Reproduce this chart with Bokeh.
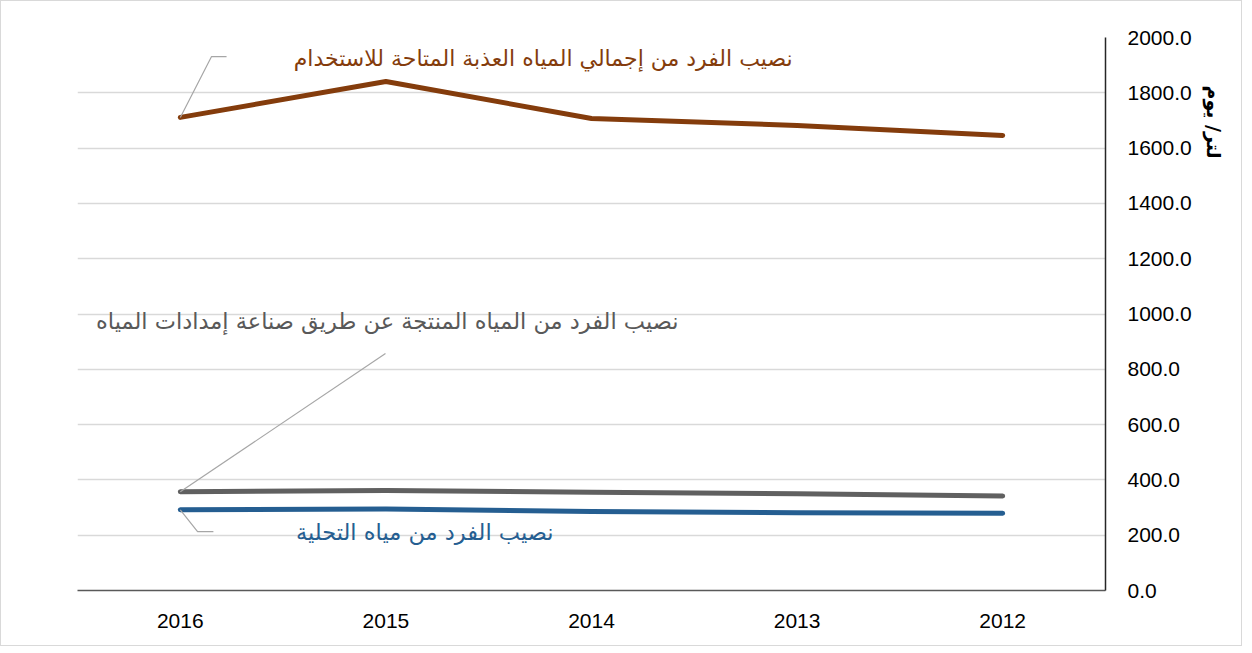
from bokeh.embed import file_html
from bokeh.models import ColumnDataSource, FixedTicker, Label, NumeralTickFormatter, Range1d, Title
from bokeh.plotting import figure
from bokeh.resources import INLINE

# نصيب الفرد من المياه (لتر/ يوم)

years = ["2016", "2015", "2014", "2013", "2012"]
total_fresh = [1711, 1841, 1707, 1682, 1646]
industry_supply = [357, 362, 355, 350, 342]
desalination = [292, 295, 286, 281, 279]

y_ticks = [0, 200, 400, 600, 800, 1000, 1200, 1400, 1600, 1800, 2000]

name_total = "نصيب الفرد من إجمالي المياه العذبة المتاحة للاستخدام"
name_industry = "نصيب الفرد من المياه المنتجة عن طريق صناعة إمدادات المياه"
name_desal = "نصيب الفرد من مياه التحلية"
unit_title = "لتر/ يوم"

# each category sits at the centre of a unit slot
xs = [i + 0.5 for i in range(len(years))]
source = ColumnDataSource(dict(x=xs, year=years, total=total_fresh,
                               industry=industry_supply, desal=desalination))

p = figure(width=1242, height=646, output_backend="svg", toolbar_location=None,
           x_range=Range1d(0, len(years)), y_range=Range1d(0, 2000),
           y_axis_location="right",
           min_border_left=76, min_border_right=138, min_border_top=36, min_border_bottom=57)
p.styles = {"border": "1px solid #d9d9d9"}
p.outline_line_color = None
p.background_fill_color = "white"

p.line("x", "total", source=source, line_color="#843C0C", line_width=5,
       line_cap="round", line_join="round")
p.line("x", "industry", source=source, line_color="#606060", line_width=5,
       line_cap="round", line_join="round")
p.line("x", "desal", source=source, line_color="#255E91", line_width=5,
       line_cap="round", line_join="round")

# leader lines from the first point to each label
leader = "#A6A6A6"
p.line([xs[0], 0.652, 0.725], [total_fresh[0], 1931, 1931], line_color=leader, line_width=1.2)
p.line([xs[0], 1.498], [industry_supply[0], 857], line_color=leader, line_width=1.2)
p.line([xs[0], 0.584, 0.661], [desalination[0], 213, 213], line_color=leader, line_width=1.2)

font = "DejaVu Sans"
p.add_layout(Label(x=3.478, y=1924, text=name_total, text_align="right", text_baseline="middle",
                   text_font=font, text_font_size="22px", text_color="#843C0C"))
p.add_layout(Label(x=2.923, y=976, text=name_industry, text_align="right", text_baseline="middle",
                   text_font=font, text_font_size="22.5px", text_color="#595959"))
p.add_layout(Label(x=2.315, y=210, text=name_desal, text_align="right", text_baseline="middle",
                   text_font=font, text_font_size="22.5px", text_color="#255E91"))

# unit title beside the right axis, near its top
p.add_layout(Title(text=unit_title, align="left", offset=48, standoff=16, text_font=font,
                   text_font_size="19px", text_font_style="bold", text_color="black"), "right")

p.xaxis.ticker = FixedTicker(ticks=xs)
p.xaxis.major_label_overrides = {x: y for x, y in zip(xs, years)}
p.yaxis.ticker = FixedTicker(ticks=y_ticks)
p.yaxis.formatter = NumeralTickFormatter(format="0.0")

for ax in (p.xaxis, p.yaxis):
    ax.major_tick_line_color = None
    ax.minor_tick_line_color = None
    ax.major_tick_out = 0
    ax.major_label_text_font = "Liberation Sans"
    ax.major_label_text_font_size = "21px"
    ax.major_label_text_color = "black"
p.xaxis.axis_line_color = "#595959"
p.xaxis.axis_line_width = 1.5
p.xaxis.major_label_standoff = 23
p.yaxis.axis_line_color = "#262626"
p.yaxis.axis_line_width = 1.5
p.yaxis.major_label_standoff = 22

p.xgrid.grid_line_color = None
p.ygrid.grid_line_color = "#D9D9D9"
p.ygrid.grid_line_width = 1.5

open("out.html", "w").write(file_html(p, INLINE))
